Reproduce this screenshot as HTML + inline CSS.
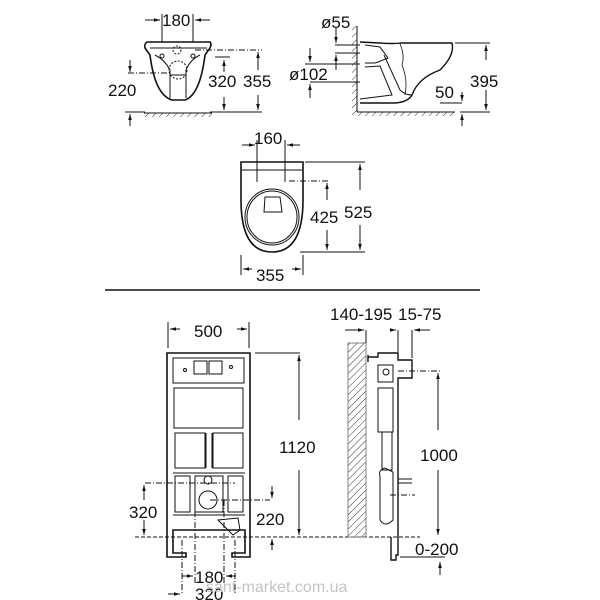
<!DOCTYPE html>
<html><head><style>
html,body{margin:0;padding:0;background:#fff;}
svg{display:block}
text{font-family:"Liberation Sans",Arial,sans-serif;fill:#111;}
</style></head><body>
<svg width="600" height="600" viewBox="0 0 600 600" xmlns="http://www.w3.org/2000/svg">
<defs>
<pattern id="h" width="5" height="5" patternUnits="userSpaceOnUse" patternTransform="rotate(45)">
<line x1="0" y1="0" x2="0" y2="5" stroke="#333" stroke-width="1"/></pattern>
<marker id="a" viewBox="0 0 10 10" refX="10" refY="5" markerWidth="6" markerHeight="6" orient="auto-start-reverse"><path d="M0,2L10,5L0,8z" fill="#111"/></marker>
</defs>
<g stroke="#111" fill="none" stroke-width="1">
<line x1="162" y1="14" x2="162" y2="42"/><line x1="193" y1="14" x2="193" y2="42"/>
<line x1="145" y1="20" x2="160" y2="20" marker-end="url(#a)"/><line x1="210" y1="20" x2="195" y2="20" marker-end="url(#a)"/>
<path d="M147,42 L210,42 Q212,44 210,48 L205,55 Q200,95 185,100 L172,100 Q155,95 150,55 L145,48 Q144,44 147,42 Z" stroke-width="1.6"/>
<path d="M150,48 L207,48 M155,55 Q165,60 170,70 L170,98 M200,55 Q190,60 186,70 L186,98 M170,75 L186,75"/>
<circle cx="162" cy="56" r="2"/><circle cx="193" cy="56" r="2"/><circle cx="177" cy="50" r="4" stroke-dasharray="2,1.5"/><circle cx="178" cy="70" r="9" stroke-dasharray="2,1.5"/>
<line x1="128" y1="73" x2="170" y2="73" stroke-dasharray="6,2,1,2"/>
<line x1="195" y1="50" x2="262" y2="50" stroke-dasharray="6,2,1,2"/>
<line x1="215" y1="57" x2="230" y2="57"/>
<line x1="224" y1="60" x2="224" y2="72" marker-start="url(#a)"/><line x1="224" y1="97" x2="224" y2="110" marker-end="url(#a)"/>
<line x1="258" y1="52" x2="258" y2="70" marker-start="url(#a)"/><line x1="258" y1="95" x2="258" y2="110" marker-end="url(#a)"/>
<line x1="130" y1="60" x2="130" y2="72" marker-end="url(#a)"/><line x1="130" y1="126" x2="130" y2="114" marker-end="url(#a)"/>
<line x1="125" y1="112" x2="145" y2="112"/><line x1="210" y1="112" x2="262" y2="112"/>
<rect x="144" y="113" width="68" height="4" fill="url(#h)" stroke="none"/>
<line x1="144" y1="113" x2="212" y2="113"/>
<rect x="352" y="26" width="5" height="90" fill="url(#h)" stroke="none"/>
<line x1="357" y1="26" x2="357" y2="112"/>
<rect x="357" y="112" width="98" height="4" fill="url(#h)" stroke="none"/>
<line x1="357" y1="112" x2="455" y2="112"/>
<path d="M360,42 L380,43 Q395,44 400,43 L452,43 Q455,55 440,70 Q418,78 412,95 Q408,102 395,103 L360,103" stroke-width="1.4"/>
<path d="M365,45 L380,47 L388,58 L378,62 L375,63 L365,63 M365,67 L380,66 L392,95 L360,99 M384,55 L400,90 Q405,95 412,95"/>
<path d="M400,44 Q405,55 402,65 Q408,80 405,95" stroke-width="0.8"/>
<line x1="335" y1="45" x2="360" y2="45"/><line x1="335" y1="53" x2="360" y2="53"/>
<line x1="305" y1="64" x2="360" y2="64"/><line x1="310" y1="82" x2="360" y2="82"/>
<line x1="336" y1="28" x2="336" y2="43" marker-end="url(#a)"/><line x1="336" y1="70" x2="336" y2="55" marker-end="url(#a)"/>
<line x1="310" y1="48" x2="310" y2="62" marker-end="url(#a)"/><line x1="310" y1="98" x2="310" y2="84" marker-end="url(#a)"/>
<line x1="455" y1="43" x2="490" y2="43"/><line x1="440" y1="103" x2="462" y2="103"/><line x1="460" y1="112" x2="490" y2="112"/>
<line x1="486" y1="60" x2="486" y2="45" marker-end="url(#a)"/><line x1="486" y1="90" x2="486" y2="110" marker-end="url(#a)"/>
<line x1="462" y1="92" x2="462" y2="101" marker-end="url(#a)"/><line x1="462" y1="126" x2="462" y2="114" marker-end="url(#a)"/>
<line x1="257" y1="140" x2="257" y2="182"/><line x1="285" y1="140" x2="285" y2="182"/>
<line x1="242" y1="145" x2="255" y2="145" marker-end="url(#a)"/><line x1="300" y1="145" x2="287" y2="145" marker-end="url(#a)"/>
<path d="M241,162 L303,162 L303,200 Q303,252 272,252 Q241,252 241,200 Z" stroke-width="1.6"/>
<line x1="242" y1="170" x2="302" y2="170"/>
<ellipse cx="272" cy="217" rx="27" ry="28"/><ellipse cx="272" cy="217" rx="25" ry="26"/>
<path d="M265,197 L280,197 L282,212 L264,212 Z"/>
<line x1="289" y1="181" x2="330" y2="181" stroke-dasharray="6,2,1,2"/>
<line x1="305" y1="162" x2="365" y2="162"/><line x1="300" y1="252" x2="365" y2="252"/>
<line x1="327" y1="200" x2="327" y2="183" marker-end="url(#a)"/><line x1="327" y1="230" x2="327" y2="250" marker-end="url(#a)"/>
<line x1="360" y1="190" x2="360" y2="164" marker-end="url(#a)"/><line x1="360" y1="225" x2="360" y2="250" marker-end="url(#a)"/>
<line x1="241" y1="255" x2="241" y2="275"/><line x1="303" y1="255" x2="303" y2="275"/>
<line x1="252" y1="269" x2="243" y2="269" marker-end="url(#a)"/><line x1="292" y1="269" x2="301" y2="269" marker-end="url(#a)"/>
<line x1="105" y1="290" x2="480" y2="290" stroke-width="1.6"/>
<line x1="168" y1="322" x2="168" y2="348"/><line x1="249" y1="322" x2="249" y2="348"/>
<line x1="180" y1="329" x2="170" y2="329" marker-end="url(#a)"/><line x1="237" y1="329" x2="247" y2="329" marker-end="url(#a)"/>
<path d="M167,353 L250,353 L250,557 L232,557 L232,553 L245,553 L245,530 L173,530 L173,553 L186,553 L186,557 L167,557 Z" stroke-width="1.6"/>
<rect x="173" y="358" width="71" height="25"/>
<rect x="194" y="361" width="13" height="13"/><rect x="209" y="361" width="13" height="13"/>
<circle cx="185" cy="370" r="1.5"/><circle cx="231" cy="367" r="1.5"/>
<path d="M174,388 L243,388 L243,428 L174,428 Z"/>
<path d="M175,433 L205,433 L205,468 L175,468 Z M213,433 L243,433 L243,468 L213,468 Z M206,433 L206,468 M212,433 L212,468"/>
<path d="M173,473 L245,473 M175,476 L190,476 L190,512 L175,512 Z M228,476 L243,476 L243,512 L228,512 Z"/>
<rect x="195" y="476" width="28" height="36"/><circle cx="208" cy="500" r="9"/><circle cx="208" cy="480" r="4"/>
<path d="M173,515 L245,515 M218,520 L238,518 L240,530 L233,535 Z"/>
<line x1="145" y1="483" x2="235" y2="483" stroke-dasharray="6,2,1,2"/>
<line x1="210" y1="500" x2="270" y2="500" stroke-dasharray="6,2,1,2"/>
<line x1="135" y1="537" x2="420" y2="537" stroke-dasharray="4,2"/>
<line x1="255" y1="353" x2="300" y2="353"/>
<line x1="299" y1="420" x2="299" y2="355" marker-end="url(#a)"/><line x1="299" y1="470" x2="299" y2="535" marker-end="url(#a)"/>
<line x1="144" y1="500" x2="144" y2="485" marker-end="url(#a)"/><line x1="144" y1="520" x2="144" y2="535" marker-end="url(#a)"/>
<line x1="272" y1="486" x2="272" y2="498" marker-end="url(#a)"/><line x1="272" y1="550" x2="272" y2="539" marker-end="url(#a)"/>
<line x1="182" y1="540" x2="182" y2="595" stroke-dasharray="6,2,1,2"/><line x1="235" y1="540" x2="235" y2="595" stroke-dasharray="6,2,1,2"/>
<line x1="195" y1="500" x2="195" y2="585" stroke-dasharray="6,2,1,2"/><line x1="224" y1="500" x2="224" y2="585" stroke-dasharray="6,2,1,2"/>
<line x1="182" y1="576" x2="193" y2="576" marker-end="url(#a)"/><line x1="236" y1="576" x2="226" y2="576" marker-end="url(#a)"/>
<line x1="168" y1="594" x2="180" y2="594" marker-end="url(#a)"/>
<rect x="348" y="343" width="18" height="194" fill="url(#h)" stroke="none"/>
<rect x="348" y="343" width="18" height="194" stroke-width="0.8" stroke="#666"/>
<line x1="366" y1="330" x2="366" y2="343"/><line x1="398" y1="330" x2="398" y2="352"/><line x1="412" y1="330" x2="412" y2="358"/>
<line x1="345" y1="330" x2="364" y2="330" marker-end="url(#a)"/><line x1="392" y1="330" x2="396" y2="330" marker-end="url(#a)"/><line x1="430" y1="330" x2="414" y2="330" marker-end="url(#a)"/>
<path d="M368,357 L378,357 L378,353 L398,353 L398,360 L412,360 L412,378 L398,378 L398,555 L396,555 L396,560 L391,560 L391,537 M368,355 L368,362" stroke-width="1.4"/>
<path d="M378,365 L393,365 L393,382 L378,382 Z M378,388 L393,388 L393,432 L378,432 Z M382,432 L382,470 L392,470 L392,432 M380,476 Q378,470 385,468 L393,472 L393,520 Q385,528 380,520 Z"/>
<circle cx="386" cy="372" r="3"/>
<line x1="398" y1="479" x2="412" y2="479"/><line x1="398" y1="483" x2="412" y2="483"/>
<line x1="398" y1="371" x2="440" y2="371" stroke-dasharray="6,2,1,2"/>
<line x1="390" y1="495" x2="415" y2="495" stroke-dasharray="6,2,1,2"/>
<line x1="438" y1="430" x2="438" y2="373" marker-end="url(#a)"/><line x1="438" y1="470" x2="438" y2="535" marker-end="url(#a)"/>
<line x1="400" y1="557" x2="445" y2="557"/>
<line x1="440" y1="575" x2="440" y2="562" marker-end="url(#a)"/>
</g>
<g font-size="17">
<text x="162" y="26">180</text>
<text x="108" y="96">220</text>
<text x="208" y="87">320</text>
<text x="243" y="87">355</text>
<text x="321" y="28">ø55</text>
<text x="289" y="80">ø102</text>
<text x="470" y="87">395</text>
<text x="435" y="98">50</text>
<text x="254" y="144">160</text>
<text x="310" y="223">425</text>
<text x="344" y="218">525</text>
<text x="256" y="281">355</text>
<text x="194" y="337">500</text>
<text x="279" y="453">1120</text>
<text x="129" y="518">320</text>
<text x="256" y="525">220</text>
<text x="195" y="583">180</text>
<text x="195" y="600">320</text>
<text x="330" y="320">140-195</text>
<text x="398" y="320">15-75</text>
<text x="420" y="461">1000</text>
<text x="415" y="555">0-200</text>
</g>
<text x="206" y="592" font-size="16" style="fill:#c4c4c4">sant-market.com.ua</text>
</svg>
</body></html>
